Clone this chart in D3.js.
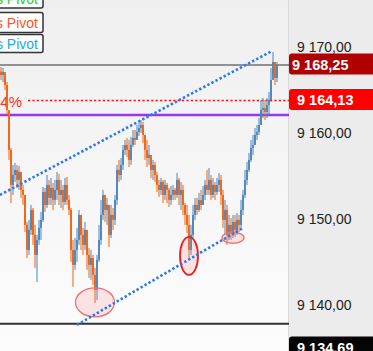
<!DOCTYPE html>
<html>
<head>
<meta charset="utf-8">
<script src="https://cdn.jsdelivr.net/npm/d3@7"></script>
<style>
html,body{margin:0;padding:0;background:#ececec;}
svg{display:block;font-family:"Liberation Sans",Arial,sans-serif;}
</style>
</head>
<body>
<svg id="chart" width="373" height="351"></svg>
<script>
// ---- data ----
const closes = [9167.09,9167.44,9165.93,9163.03,9158.39,9154.33,9155.49,9156.07,9154.91,9155.84,
9153.75,9153.17,9149.69,9146.79,9149.11,9151.43,9148.53,9146.21,9147.95,9149.34,
9150.27,9153.52,9152.01,9154.33,9152.82,9153.98,9152.59,9153.75,9154.91,9153.17,
9153.75,9152.36,9154.33,9152.59,9151.43,9146.79,9145.05,9146.79,9147.95,9150.85,
9148.53,9147.37,9149.11,9146.21,9145.05,9145.86,9143.89,9142.15,9145.63,9147.95,
9150.85,9153.17,9151.43,9152.01,9148.53,9150.85,9150.27,9152.59,9156.07,9155.49,
9156.65,9158.39,9158.97,9158.39,9157.23,9158.97,9159.78,9159.55,9160.48,9160.94,
9161.29,9160.13,9158.39,9157.46,9157.81,9156.07,9156.65,9155.49,9154.33,9153.75,
9154.68,9153.17,9154.33,9153.75,9152.59,9153.17,9153.75,9153.17,9154.91,9153.17,
9153.75,9152.01,9150.85,9149.69,9146.79,9148.53,9150.85,9152.01,9151.43,9152.59,
9152.01,9153.17,9154.33,9153.75,9154.91,9153.17,9154.33,9153.52,9154.33,9154.91,
9153.17,9150.27,9151.43,9148.53,9149.69,9148.88,9150.04,9149.11,9150.27,9149.69,
9151.43,9153.17,9154.91,9156.07,9157.23,9158.62,9158.97,9160.13,9160.48,9161.29,
9163.03,9163.26,9162.80,9163.61,9164.19,9166.51,9168.60,9166.74,9168.25];
const highs = [9168.02,9167.90,9166.74,9166.28,9162.80,9158.62,9156.65,9156.88,9156.65,9156.53,
9155.84,9154.33,9153.17,9150.04,9150.27,9152.01,9151.66,9149.69,9148.53,9150.27,
9151.20,9154.10,9153.98,9155.49,9154.91,9155.14,9154.56,9154.91,9155.84,9155.61,
9154.91,9154.33,9155.14,9155.26,9153.17,9151.66,9147.95,9148.18,9149.34,9151.43,
9150.85,9149.34,9150.04,9149.11,9147.02,9146.79,9146.21,9144.70,9146.21,9149.69,
9152.59,9153.75,9153.17,9152.82,9152.01,9152.01,9151.66,9153.17,9156.65,9157.23,
9157.46,9158.97,9159.55,9159.78,9159.55,9159.90,9160.71,9160.71,9161.29,9161.52,
9161.87,9161.64,9160.13,9159.55,9158.97,9157.46,9157.23,9157.00,9155.84,9154.91,
9155.14,9154.91,9154.91,9154.56,9153.98,9154.21,9154.33,9153.98,9155.72,9155.14,
9154.68,9154.33,9152.24,9152.01,9150.85,9149.69,9152.01,9152.82,9152.82,9153.40,
9153.75,9154.21,9154.91,9156.07,9156.30,9155.49,9155.14,9154.68,9155.14,9155.72,
9155.49,9153.75,9152.59,9152.01,9150.85,9150.50,9150.85,9150.85,9151.08,9150.85,
9152.59,9153.75,9156.07,9157.00,9158.04,9159.55,9160.13,9160.94,9161.29,9162.10,
9164.19,9164.42,9164.19,9164.42,9165.12,9167.90,9169.76,9168.48,9168.60];
const lows = [9166.51,9166.28,9165.35,9162.45,9157.23,9152.24,9153.17,9154.68,9153.98,9153.75,
9152.82,9152.01,9148.88,9145.86,9146.21,9148.53,9147.37,9144.70,9143.08,9147.37,
9147.95,9150.04,9151.20,9151.66,9152.01,9152.01,9151.43,9152.01,9152.59,9152.01,
9151.66,9151.43,9152.01,9152.01,9150.85,9145.40,9142.50,9144.47,9145.40,9147.37,
9146.79,9146.21,9146.79,9144.47,9143.54,9143.31,9142.73,9140.64,9140.99,9145.40,
9147.37,9150.27,9150.04,9149.69,9147.14,9148.18,9149.11,9149.69,9152.01,9154.68,
9154.91,9156.07,9157.81,9157.58,9156.42,9156.65,9158.74,9158.97,9159.55,9160.01,
9160.36,9159.20,9157.23,9156.42,9156.65,9155.14,9154.91,9154.68,9153.52,9152.94,
9153.17,9152.24,9152.59,9152.24,9151.78,9152.01,9152.59,9152.59,9152.82,9152.01,
9151.43,9150.85,9149.69,9148.76,9145.86,9146.21,9148.18,9150.27,9150.85,9151.20,
9151.43,9152.01,9152.59,9153.17,9153.17,9152.59,9152.82,9152.59,9153.17,9153.52,
9152.01,9149.34,9148.53,9147.37,9147.95,9147.95,9148.18,9148.30,9148.53,9148.88,
9149.34,9150.85,9152.82,9154.33,9155.84,9157.00,9157.81,9158.97,9159.55,9160.13,
9161.29,9162.10,9161.87,9162.10,9162.45,9164.19,9167.09,9165.93,9166.28];
const firstOpen = 9167.50;

const yTicks = [9140, 9150, 9160, 9170];
const levelLast = 9168.25;      // last price line
const levelRed = 9164.13;       // red dotted level
const levelPurple = 9162.45;    // purple level
const levelBottom = 9138.21;    // bottom black line
const levelLow = 9134.69;       // bottom price tag
const pctLabel = "0,04%";
const legendNames = ["Woodies Pivot", "Camarillas Pivot", "DeMarks Pivot"];
const legendColors = ["#2ecc2e", "#ff5522", "#18aaee"];
// trend lines: [index, price]
const upperTrend = [[-0.5, 9153.17], [135.5, 9169.87]];
const lowerTrend = [[38, 9138.09], [121, 9149.34]];
// highlighted extremes: [index, price]
const marks = [[47, 9140.70], [94, 9146.09], [116, 9148.20]];

// ---- chart ----
const W = 373, H = 351, plotR = 289;
const svg = d3.select("#chart");
const fmt = d3.formatLocale({decimal: ",", thousands: " ", grouping: [3], currency: ["", ""]}).format(",.2f");

const x = d3.scaleLinear().domain([0, closes.length - 1]).range([1, 277]);
const y = d3.scaleLinear().domain([9140, 9170]).range([308.4, 49.9]);

const defs = svg.append("defs");
const g = defs.append("linearGradient").attr("id", "bg").attr("x1", 0).attr("y1", 0).attr("x2", 0).attr("y2", 1);
g.append("stop").attr("offset", "0%").attr("stop-color", "#efefef");
g.append("stop").attr("offset", "100%").attr("stop-color", "#fcfcfc");
defs.append("clipPath").attr("id", "plotclip").append("rect").attr("x", 0).attr("y", 0).attr("width", plotR).attr("height", H);

svg.append("rect").attr("x", 0).attr("y", 0).attr("width", plotR).attr("height", H).attr("fill", "url(#bg)");
svg.append("rect").attr("x", plotR).attr("y", 0).attr("width", W - plotR).attr("height", H).attr("fill", "#ececec");
svg.append("line").attr("x1", plotR - 0.5).attr("x2", plotR - 0.5).attr("y1", 0).attr("y2", H).attr("stroke", "#dadada");

const plot = svg.append("g").attr("clip-path", "url(#plotclip)");

// horizontal levels
plot.append("line").attr("x1", 0).attr("x2", plotR).attr("y1", y(levelLast)).attr("y2", y(levelLast))
  .attr("stroke", "#333").attr("stroke-width", 1.2);
plot.append("line").attr("x1", 0).attr("x2", plotR).attr("y1", y(levelBottom)).attr("y2", y(levelBottom))
  .attr("stroke", "#333").attr("stroke-width", 2);
plot.append("line").attr("x1", 28).attr("x2", plotR).attr("y1", y(levelRed)).attr("y2", y(levelRed))
  .attr("stroke", "#ff1010").attr("stroke-width", 1.4).attr("stroke-dasharray", "2.2,2.2");
plot.append("line").attr("x1", 0).attr("x2", plotR).attr("y1", y(levelPurple)).attr("y2", y(levelPurple))
  .attr("stroke", "#9a35ee").attr("stroke-width", 2.6);
plot.append("text").attr("x", 22).attr("y", y(levelRed) + 1.5).attr("text-anchor", "end")
  .attr("dominant-baseline", "central").attr("fill", "#ff2a2a").attr("font-size", 15).text(pctLabel);

// candles
const candles = closes.map((c, i) => ({i, o: i === 0 ? firstOpen : closes[i - 1], c, h: highs[i], l: lows[i]}));
const up = "#4a84bd", down = "#f0620f";
const cg = plot.append("g");
cg.selectAll("line.w").data(candles).join("line").attr("class", "w")
  .attr("x1", d => x(d.i)).attr("x2", d => x(d.i))
  .attr("y1", d => y(d.h)).attr("y2", d => y(d.l))
  .attr("stroke", d => d.c >= d.o ? up : down).attr("stroke-width", 1);
cg.selectAll("rect.b").data(candles).join("rect").attr("class", "b")
  .attr("x", d => x(d.i) - 0.9).attr("width", 1.8)
  .attr("y", d => Math.min(y(d.o), y(d.c)))
  .attr("height", d => Math.max(1, Math.abs(y(d.o) - y(d.c))))
  .attr("fill", d => d.c >= d.o ? up : down);

// ellipses
const ell = [{rx: 19.5, ry: 14.5, stroke: "#f07070", sw: 1.3}, {rx: 9, ry: 19, stroke: "#e81c1c", sw: 1.8}, {rx: 11, ry: 5.5, stroke: "#f07070", sw: 1.3}];
plot.selectAll("ellipse").data(marks).join("ellipse")
  .attr("cx", d => x(d[0])).attr("cy", d => y(d[1]))
  .attr("rx", (d, k) => ell[k].rx).attr("ry", (d, k) => ell[k].ry)
  .attr("fill", "rgba(255,120,120,0.18)")
  .attr("stroke", (d, k) => ell[k].stroke).attr("stroke-width", (d, k) => ell[k].sw);

// trend lines
const line = d3.line().x(d => x(d[0])).y(d => y(d[1]));
[upperTrend, lowerTrend].forEach(t => {
  plot.append("path").attr("d", line(t)).attr("fill", "none")
    .attr("stroke", "#2a78f0").attr("stroke-width", 2.6).attr("stroke-dasharray", "2.4,2.2");
});

// right axis
const ax = svg.append("g");
ax.selectAll("text").data(yTicks).join("text")
  .attr("x", 297).attr("y", d => y(d) - 3).attr("dominant-baseline", "central")
  .attr("font-size", 14).attr("fill", "#222").text(d => fmt(d));

// price tags
const tags = [{v: levelLast, fill: "#b00000", tx: 292}, {v: levelRed, fill: "#ff0000", tx: 297}, {v: levelLow, fill: "#050505", tx: 297}];
tags.forEach(t => {
  const cy = Math.min(y(t.v), 348);
  svg.append("rect").attr("x", plotR).attr("y", cy - 11.5).attr("width", W - plotR + 4).attr("height", 21)
    .attr("rx", 3).attr("fill", t.fill);
  svg.append("text").attr("x", t.tx).attr("y", cy).attr("dominant-baseline", "central")
    .attr("font-size", 14.5).attr("font-weight", "bold").attr("fill", "#fff").text(fmt(t.v));
});

// legend boxes
const lg = svg.append("g");
const boxes = [[-12, 8], [12.5, 32.5], [34.5, 52.5]];
legendNames.forEach((n, k) => {
  const b = boxes[k];
  lg.append("rect").attr("x", -10).attr("y", b[0]).attr("width", 53).attr("height", b[1] - b[0])
    .attr("rx", 2).attr("fill", "#fff").attr("stroke", "#333").attr("stroke-width", 1.5);
  lg.append("text").attr("x", 38).attr("y", (b[0] + b[1]) / 2 + 0.5).attr("text-anchor", "end")
    .attr("dominant-baseline", "central").attr("font-size", 14).attr("fill", legendColors[k]).text(n);
});
</script>
</body>
</html>
